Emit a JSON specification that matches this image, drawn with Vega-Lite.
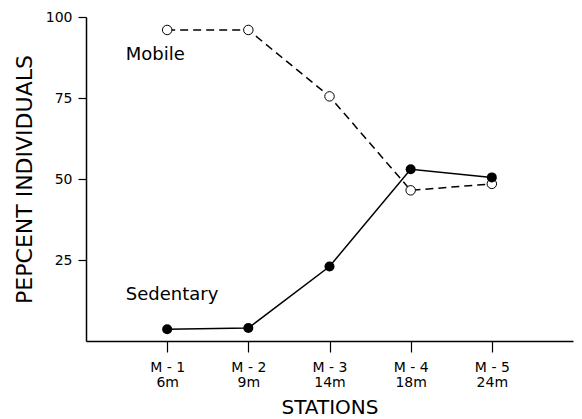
{
  "$schema": "https://vega.github.io/schema/vega-lite/v6.json",
  "width": 487,
  "height": 324,
  "autosize": "none",
  "padding": {"left": 86, "top": 17, "right": 9, "bottom": 78},
  "background": "white",
  "config": {
    "view": {"stroke": null},
    "font": "DejaVu Sans",
    "axis": {
      "grid": false,
      "domainColor": "black",
      "tickColor": "black",
      "labelColor": "black",
      "titleColor": "black",
      "labelFont": "DejaVu Sans",
      "titleFont": "DejaVu Sans",
      "titleFontWeight": "normal",
      "domainWidth": 1.5,
      "tickWidth": 1.2
    }
  },
  "datasets": {
    "series": [
      {"station": 1, "group": "Mobile", "pct": 96},
      {"station": 2, "group": "Mobile", "pct": 96},
      {"station": 3, "group": "Mobile", "pct": 75.5},
      {"station": 4, "group": "Mobile", "pct": 46.5},
      {"station": 5, "group": "Mobile", "pct": 48.5},
      {"station": 1, "group": "Sedentary", "pct": 3.6},
      {"station": 2, "group": "Sedentary", "pct": 4},
      {"station": 3, "group": "Sedentary", "pct": 23},
      {"station": 4, "group": "Sedentary", "pct": 53},
      {"station": 5, "group": "Sedentary", "pct": 50.5}
    ],
    "notes": [
      {"label": "Mobile", "x": 0.49, "y": 86.7},
      {"label": "Sedentary", "x": 0.49, "y": 12.6}
    ]
  },
  "layer": [
    {
      "data": {"name": "series"},
      "transform": [{"filter": "datum.group == 'Mobile'"}],
      "mark": {"type": "line", "color": "black", "strokeWidth": 1.5, "strokeDash": [8, 5]},
      "encoding": {
        "x": {
          "field": "station",
          "type": "quantitative",
          "scale": {"domain": [0, 6], "nice": false, "zero": false},
          "axis": {
            "values": [1, 2, 3, 4, 5],
            "title": "STATIONS",
            "titleFontSize": 20,
            "titlePadding": 8,
            "labelFontSize": 14,
            "labelLineHeight": 15,
            "labelPadding": 8,
            "tickSize": 11,
            "labelExpr": "['M - ' + datum.value, datum.value == 1 ? '6m' : datum.value == 2 ? '9m' : datum.value == 3 ? '14m' : datum.value == 4 ? '18m' : '24m']"
          }
        },
        "y": {
          "field": "pct",
          "type": "quantitative",
          "scale": {"domain": [0, 100], "nice": false},
          "axis": {
            "values": [25, 50, 75, 100],
            "title": "PEPCENT INDIVIDUALS",
            "titleFontSize": 22,
            "titlePadding": 9,
            "labelFontSize": 14,
            "labelPadding": 6,
            "tickSize": 8
          }
        }
      }
    },
    {
      "data": {"name": "series"},
      "transform": [{"filter": "datum.group == 'Sedentary'"}],
      "mark": {"type": "line", "color": "black", "strokeWidth": 1.5},
      "encoding": {
        "x": {"field": "station", "type": "quantitative"},
        "y": {"field": "pct", "type": "quantitative"}
      }
    },
    {
      "data": {"name": "series"},
      "transform": [{"filter": "datum.group == 'Mobile'"}],
      "mark": {"type": "point", "shape": "circle", "filled": true, "fill": "white", "stroke": "black", "strokeWidth": 1, "size": 90, "opacity": 1},
      "encoding": {
        "x": {"field": "station", "type": "quantitative"},
        "y": {"field": "pct", "type": "quantitative"}
      }
    },
    {
      "data": {"name": "series"},
      "transform": [{"filter": "datum.group == 'Sedentary'"}],
      "mark": {"type": "point", "shape": "circle", "filled": true, "color": "black", "size": 100, "opacity": 1},
      "encoding": {
        "x": {"field": "station", "type": "quantitative"},
        "y": {"field": "pct", "type": "quantitative"}
      }
    },
    {
      "data": {"name": "notes"},
      "mark": {"type": "text", "align": "left", "baseline": "alphabetic", "fontSize": 18, "font": "DejaVu Sans", "color": "black"},
      "encoding": {
        "x": {"field": "x", "type": "quantitative"},
        "y": {"field": "y", "type": "quantitative"},
        "text": {"field": "label"}
      }
    }
  ]
}
